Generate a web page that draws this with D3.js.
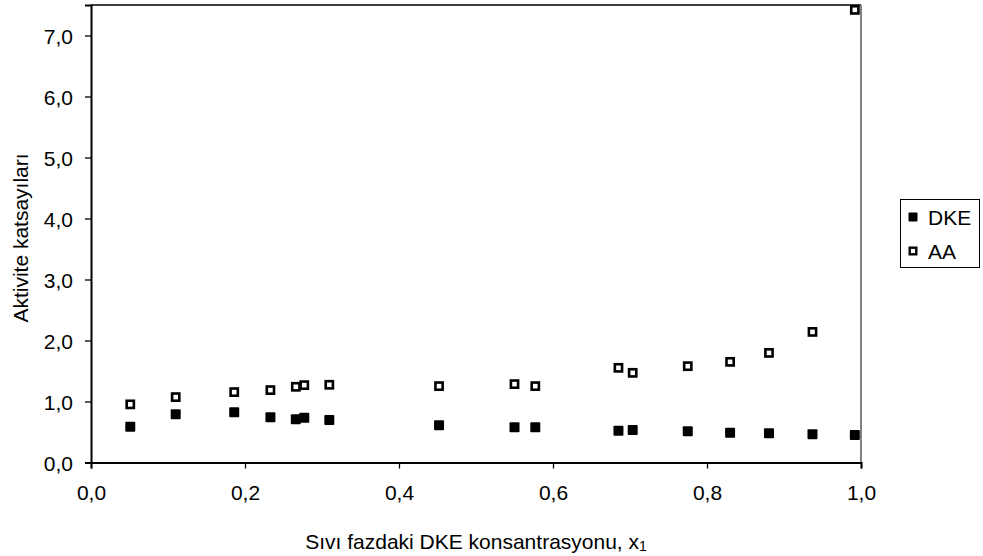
<!DOCTYPE html>
<html><head><meta charset="utf-8">
<script src="https://cdn.jsdelivr.net/npm/d3@7/dist/d3.min.js"></script>
<style>
html,body{margin:0;padding:0;background:#fff;}
text{font-family:"Liberation Sans",Arial,sans-serif;fill:#000;}
</style></head>
<body><svg id="c" width="983" height="556"></svg>
<script>
const xValues = [0.051,0.110,0.186,0.233,0.266,0.277,0.3095,0.452,0.550,0.577,0.685,0.7035,0.775,0.830,0.8805,0.937,0.992];
const dkeValues = [0.586,0.789,0.822,0.740,0.707,0.734,0.696,0.609,0.576,0.576,0.521,0.532,0.511,0.488,0.478,0.462,0.450];
const aaValues = [0.953,1.072,1.154,1.187,1.241,1.268,1.274,1.252,1.285,1.252,1.552,1.470,1.579,1.650,1.797,2.141,7.42];
const xTicks = [0,0.2,0.4,0.6,0.8,1.0];
const yTicks = [0,1,2,3,4,5,6,7];
const seriesNames = ["DKE","AA"];
const xTitle = "Sıvı fazdaki DKE konsantrasyonu, x";
const xTitleSub = "1";
const yTitle = "Aktivite katsayıları";

const svg = d3.select("#c");
const L=91,R=861,T=5,B=462.5;
const x = d3.scaleLinear().domain([0,1]).range([L,R]);
const y = d3.scaleLinear().domain([0,7.5]).range([B,T]);
const fmt = d => d3.format(".1f")(d).replace(".", ",");

// plot frame (top and right)
svg.append("line").attr("x1",L).attr("x2",R).attr("y1",T).attr("y2",T).attr("stroke","#000").attr("stroke-width",1.5);
svg.append("line").attr("x1",R).attr("x2",R).attr("y1",T).attr("y2",B).attr("stroke","#808080").attr("stroke-width",2);

// axes
const xa = svg.append("g").attr("transform",`translate(0,${B})`)
  .call(d3.axisBottom(x).tickValues(xTicks).tickFormat(fmt).tickSize(6).tickPadding(12));
const ya = svg.append("g").attr("transform",`translate(${L},0)`)
  .call(d3.axisLeft(y).tickValues(yTicks).tickFormat(fmt).tickSize(6).tickPadding(12));
[xa,ya].forEach(a=>{
  a.select(".domain").attr("stroke","#000").attr("stroke-width",2);
  a.selectAll(".tick line").attr("stroke","#000").attr("stroke-width",1.3);
  a.selectAll(".tick text").attr("font-size",21).attr("font-family","Liberation Sans, Arial, sans-serif").attr("fill","#000");
});
xa.selectAll(".tick text").attr("dy","0.95em");
ya.selectAll(".tick text").attr("dy","0.36em");

// points
const dke = xValues.map((v,i)=>({x:v,y:dkeValues[i]}));
const aa = xValues.map((v,i)=>({x:v,y:aaValues[i]}));
svg.append("g").selectAll("rect").data(dke).join("rect")
  .attr("x",d=>x(d.x)-5).attr("y",d=>y(d.y)-5).attr("width",10).attr("height",10).attr("rx",1)
  .attr("fill","#000");
svg.append("g").selectAll("rect").data(aa).join("rect")
  .attr("x",d=>x(d.x)-3.6).attr("y",d=>y(d.y)-3.6).attr("width",7.2).attr("height",7.2)
  .attr("fill","#fff").attr("stroke","#000").attr("stroke-width",2.6);

// axis titles
const xt = svg.append("text").attr("x",(L+R)/2).attr("y",549).attr("text-anchor","middle").attr("font-size",21);
xt.append("tspan").text(xTitle);
xt.append("tspan").text(xTitleSub).attr("font-size",14).attr("dy",2);
svg.append("text").attr("transform","translate(28,238) rotate(-90)").attr("text-anchor","middle").attr("font-size",21).text(yTitle);

// legend
const lg = svg.append("g");
lg.append("rect").attr("x",900.5).attr("y",199.5).attr("width",79).attr("height",68).attr("fill","#fff").attr("stroke","#000").attr("stroke-width",1);
const ly = [217,251];
lg.append("rect").attr("x",913-4.5).attr("y",ly[0]-4.5).attr("width",9).attr("height",9).attr("rx",1).attr("fill","#000");
lg.append("rect").attr("x",913-3.3).attr("y",ly[1]-3.3).attr("width",6.6).attr("height",6.6).attr("fill","#fff").attr("stroke","#000").attr("stroke-width",2.4);
seriesNames.forEach((n,i)=>{
  lg.append("text").attr("x",928).attr("y",ly[i]).attr("dy","0.36em").attr("font-size",21).text(n);
});
</script></body></html>
